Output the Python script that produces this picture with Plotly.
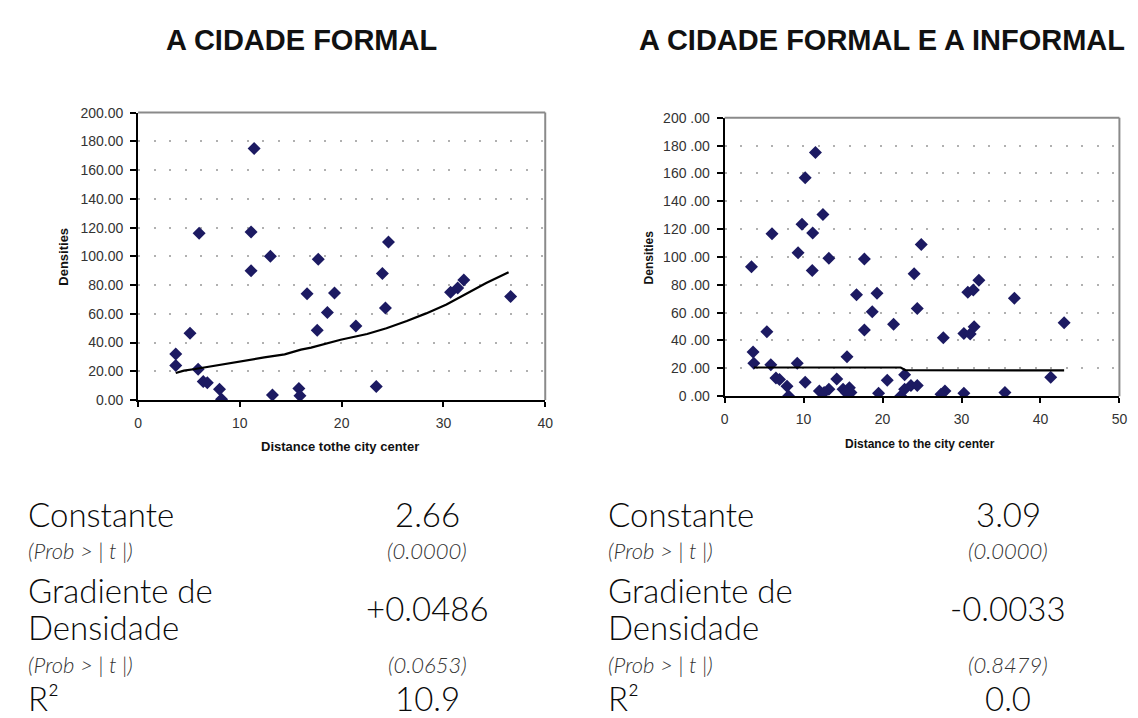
import plotly.graph_objects as go

W, H = 1138, 718

# ---------------- data ----------------
formal_x = [11.4, 6.0, 11.1, 11.1, 13.0, 24.6, 17.7, 24.0, 16.6, 19.3, 18.6, 17.6, 21.4, 24.3,
            30.7, 31.4, 32.0, 36.6, 23.4, 3.7, 3.7, 5.1, 5.9, 6.4, 6.8, 8.0, 8.2, 13.2, 15.8, 15.9]
formal_y = [175, 116, 117, 90, 100, 110, 98, 88, 74, 74.5, 61, 48.5, 51.5, 64,
            75, 78, 83.5, 72, 9.5, 32, 24, 46.5, 21.5, 13, 12, 7.5, 0.5, 3.5, 8, 3]

trend_formal_x = [3.7, 4.5, 5.6, 7.9, 9.8, 12.4, 14.4, 16.0, 17.0, 19.9, 22.5, 24.4, 26.4, 28.3,
                  30.3, 32.2, 34.2, 36.4]
trend_formal_y = [18.8, 20.5, 21.6, 24.5, 26.7, 29.7, 31.8, 35.1, 36.5, 42.0, 46.0, 50.0, 55.0, 60.3,
                  66.5, 74.0, 81.5, 89.0]

all_x = [11.5, 10.2, 12.45, 9.8, 11.15, 6.0, 9.3, 13.2, 17.7, 3.4, 11.1, 24.9, 16.7, 19.3, 18.7,
         17.7, 5.35, 3.6, 3.7, 5.85, 9.2, 15.5, 6.5, 6.95, 7.9, 8.1, 10.2, 12.0, 13.2, 12.6, 14.2,
         15.0, 15.8, 15.4, 16.0, 19.5, 20.6, 24.0, 24.4, 21.4, 27.7, 30.3, 31.1, 31.6, 30.8, 31.5,
         32.2, 36.7, 43.0, 41.3, 22.8, 22.3, 22.8, 23.6, 24.4, 27.9, 27.4, 30.3, 35.5]
all_y = [175, 157, 130.5, 123.5, 117.2, 116.7, 103, 99, 98.5, 93, 90.3, 109, 72.8, 74, 60.6,
         47.5, 46.3, 31.8, 23.6, 22.5, 23.6, 28.3, 13, 12, 7.2, 0.2, 10, 3.7, 4.9, 2.6, 12.4,
         4.9, 6.1, 2.6, 2.6, 2.1, 11.4, 88, 63, 51.7, 41.9, 45, 44.7, 49.8, 74.6, 76.3,
         83.3, 70.4, 52.8, 13.5, 15.4, 0.2, 4.9, 7.7, 7.7, 3.7, 1.4, 2.1, 2.6]

trend_all_x = [3.7, 22.3, 22.9, 43.0]
trend_all_y = [20.6, 20.6, 18.6, 18.5]

y_ticks = [0, 20, 40, 60, 80, 100, 120, 140, 160, 180, 200]
y_labels_left = ["0.00", "20.00", "40.00", "60.00", "80.00", "100.00", "120.00", "140.00",
                 "160.00", "180.00", "200.00"]
y_labels_right = ["0 .00", "20 .00", "40 .00", "60 .00", "80 .00", "100 .00", "120 .00", "140 .00",
                  "160 .00", "180 .00", "200 .00"]
x_ticks_left = [0, 10, 20, 30, 40]
x_ticks_right = [0, 10, 20, 30, 40, 50]

titles = ["A CIDADE FORMAL", "A CIDADE FORMAL E A INFORMAL"]
row_labels = ["Constante", "(Prob > | t |)", "Gradiente de", "Densidade", "(Prob > | t |)", "R²"]
vals_left = ["2.66", "(0.0000)", "+0.0486", "(0.0653)", "10.9"]
vals_right = ["3.09", "(0.0000)", "-0.0033", "(0.8479)", "0.0"]

# ---------------- figure ----------------
MARK = "#1c1a62"
fig = go.Figure()
fig.add_trace(go.Scatter(x=formal_x, y=formal_y, mode="markers", xaxis="x", yaxis="y",
                         marker=dict(symbol="diamond", size=10, color=MARK), showlegend=False))
fig.add_trace(go.Scatter(x=trend_formal_x, y=trend_formal_y, mode="lines", xaxis="x", yaxis="y",
                         line=dict(color="black", width=2.2), showlegend=False))
fig.add_trace(go.Scatter(x=all_x, y=all_y, mode="markers", xaxis="x2", yaxis="y2",
                         marker=dict(symbol="diamond", size=10, color=MARK), showlegend=False))
fig.add_trace(go.Scatter(x=trend_all_x, y=trend_all_y, mode="lines", xaxis="x2", yaxis="y2",
                         line=dict(color="black", width=2.2), showlegend=False))

def px(v):
    return v / W

def py(v):
    return 1 - v / H

tickfont = dict(family="Liberation Sans, Arial, sans-serif", size=14, color="#333333")
grid = dict(showgrid=True, gridcolor="#b0b0b0", griddash="2px,13.5px", gridwidth=2)

fig.update_layout(
    width=W, height=H, margin=dict(l=0, r=0, t=0, b=0),
    paper_bgcolor="white", plot_bgcolor="white",
    xaxis=dict(domain=[px(135.5), px(547)], range=[0, 40], anchor="y",
               tickvals=x_ticks_left, ticktext=[str(v) for v in x_ticks_left],
               showline=True, linecolor="black", linewidth=2, showgrid=False, zeroline=False,
               ticks="outside", ticklen=5, tickwidth=2, tickcolor="black", tickfont=tickfont,
               ticklabelstandoff=4),
    yaxis=dict(domain=[py(401), py(107)], range=[0, 200], anchor="x",
               tickvals=y_ticks, ticktext=y_labels_left,
               showline=True, linecolor="black", linewidth=2, zeroline=False,
               ticks="outside", ticklen=6, tickwidth=2, tickcolor="black", tickfont=tickfont,
               ticklabelstandoff=4, **grid),
    xaxis2=dict(domain=[px(728.3), px(1127.3)], range=[0, 50], anchor="y2",
                tickvals=x_ticks_right, ticktext=[str(v) for v in x_ticks_right],
                showline=True, linecolor="black", linewidth=2, showgrid=False, zeroline=False,
                ticks="outside", ticklen=5, tickwidth=2, tickcolor="black", tickfont=tickfont,
                ticklabelstandoff=4),
    yaxis2=dict(domain=[py(397), py(112.3)], range=[0, 200], anchor="x2",
                tickvals=y_ticks, ticktext=y_labels_right,
                showline=True, linecolor="black", linewidth=2, zeroline=False,
                ticks="outside", ticklen=6, tickwidth=2, tickcolor="black", tickfont=tickfont,
                ticklabelstandoff=4, **grid),
)

# gray top/right frame
for xr, yr in [("x", "y"), ("x2", "y2")]:
    fig.add_shape(type="line", xref=f"{xr} domain", yref=f"{yr} domain", x0=0, x1=1, y0=1, y1=1,
                  line=dict(color="#8a8a8a", width=2))
    fig.add_shape(type="line", xref=f"{xr} domain", yref=f"{yr} domain", x0=1, x1=1, y0=0, y1=1,
                  line=dict(color="#8a8a8a", width=2))

ann = []
titlefont = dict(family="Liberation Sans, Arial, sans-serif", size=29, color="#111111")
ann.append(dict(text="<b>" + titles[0] + "</b>", x=px(301), y=py(33), xref="paper", yref="paper",
                showarrow=False, xanchor="center", yanchor="middle", font=titlefont))
ann.append(dict(text="<b>" + titles[1] + "</b>", x=px(640), y=py(33), xref="paper", yref="paper",
                showarrow=False, xanchor="left", yanchor="middle", font=titlefont))

axfont = dict(family="Liberation Sans, Arial, sans-serif", size=13, color="#111111")
ann.append(dict(text="<b>Densities</b>", x=px(60), y=py(254), xref="paper", yref="paper",
                showarrow=False, textangle=-90, xanchor="center", yanchor="middle", font=axfont))
ann.append(dict(text="<b>Distance tothe city center</b>", x=px(340), y=py(449), xref="paper",
                yref="paper", showarrow=False, xanchor="center", yanchor="middle", font=axfont))
ann.append(dict(text="<b>Densities</b>", x=px(652), y=py(255), xref="paper", yref="paper",
                showarrow=False, textangle=-90, xanchor="center", yanchor="middle",
                font=dict(axfont, size=12)))
ann.append(dict(text="<b>Distance to the city center</b>", x=px(926), y=py(446), xref="paper",
                yref="paper", showarrow=False, xanchor="center", yanchor="middle",
                font=dict(axfont, size=12)))

bigfont = dict(family="Lato, sans-serif", size=33, color="#0a0a0a", weight=300)
smallfont = dict(family="Lato, sans-serif", size=22, color="#333333", weight=300)
label_y = [518, 555, 595, 633, 671, 706]
label_small = [False, True, False, False, True, False]
value_y = [518, 555, 614, 671, 706]
value_small = [False, True, False, True, False]
for (lx, vx, vals) in [(22, 428, vals_left), (608, 1015, vals_right)]:
    for lab, yy, small in zip(row_labels, label_y, label_small):
        f = smallfont if small else bigfont
        txt = "<i>" + lab + "</i>" if small else lab
        ann.append(dict(text=txt, x=px(lx), y=py(yy), xref="paper", yref="paper",
                        showarrow=False, xanchor="left", yanchor="middle", align="left", font=f))
    for val, yy, small in zip(vals, value_y, value_small):
        f = smallfont if small else bigfont
        txt = "<i>" + val + "</i>" if small else val
        ann.append(dict(text=txt, x=px(vx), y=py(yy), xref="paper", yref="paper",
                        showarrow=False, xanchor="center", yanchor="middle", font=f))

fig.update_layout(annotations=ann)
fig.write_html("out.html")
